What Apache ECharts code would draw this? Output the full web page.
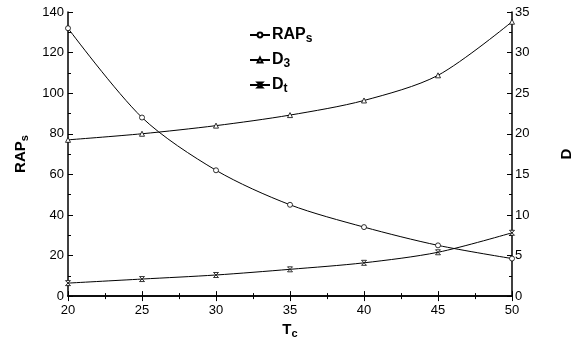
<!DOCTYPE html>
<html><head><meta charset="utf-8">
<script src="https://cdn.jsdelivr.net/npm/echarts@6/dist/echarts.min.js"></script>
<style>html,body{margin:0;padding:0;background:#fff}#c{width:582px;height:344px}</style>
</head><body><div id="c"></div>
<script>
const tc = [20, 25, 30, 35, 40, 45, 50];
const raps = [132, 88, 62, 45, 34, 25, 18.5];
const d3 = [19.25, 20, 21, 22.3, 24.1, 27.2, 33.8];
const dt = [1.6, 2.1, 2.6, 3.3, 4.1, 5.4, 7.8];
const F = 'Liberation Sans, Arial, sans-serif';
const pair = (a) => tc.map((x, i) => [x, a[i]]);
const hourglass = 'path://M0,0 L10,0 L0,10 L10,10 Z';
const chart = echarts.init(document.getElementById('c'));
const axLine = {show: true, lineStyle: {color: '#000', width: 1.5}};
const tick = {show: true, inside: true, length: 5, lineStyle: {color: '#000'}};
const minor = {show: true, splitNumber: 2, length: 3, lineStyle: {color: '#000'}};
const lbl = {color: '#000', fontSize: 13, fontFamily: F};
const nameRich = {
  a: {fontSize: 15, fontWeight: 'bold', fontFamily: F, color: '#000'},
  b: {fontSize: 11, fontWeight: 'bold', fontFamily: F, color: '#000', verticalAlign: 'bottom', padding: [8, 0, 0, 0]}
};
const legRich = {
  a: {fontSize: 16, fontWeight: 'bold', fontFamily: F, color: '#000'},
  b: {fontSize: 12, fontWeight: 'bold', fontFamily: F, color: '#000', verticalAlign: 'bottom', padding: [8, 0, 0, 0]}
};
const st = {color: '#fff', borderColor: '#000', borderWidth: 0.8};
chart.setOption({
  animation: false,
  backgroundColor: '#fff',
  grid: {left: 68, right: 70, top: 12, bottom: 40},
  legend: {
    orient: 'vertical', left: 244, top: 22, itemGap: 7, itemWidth: 20, itemHeight: 6,
    data: ['RAPs', 'D3', 'Dt'],
    formatter: (n) => n === 'RAPs' ? '{a|RAP}{b|s}' : n === 'D3' ? '{a|D}{b|3}' : '{a|D}{b|t}',
    textStyle: {rich: legRich, padding: [0, 0, 0, -3]}
  },
  xAxis: [
    {type: 'value', min: 20, max: 50, interval: 5, name: '{a|T}{b|c}', nameLocation: 'middle', nameGap: 19,
     nameTextStyle: {rich: nameRich}, axisLine: axLine, axisTick: tick, minorTick: minor,
     axisLabel: Object.assign({margin: 8}, lbl), splitLine: {show: false}},
    {type: 'value', position: 'top', min: 20, max: 50, interval: 5, axisLine: axLine, axisTick: tick,
     minorTick: minor, axisLabel: {show: false}, splitLine: {show: false}}
  ],
  yAxis: [
    {type: 'value', min: 0, max: 140, interval: 20, name: '{a|RAP}{b|s}', nameLocation: 'middle', nameGap: 38,
     nameRotate: 90, nameTextStyle: {rich: nameRich}, axisLine: axLine, axisTick: tick, minorTick: minor,
     axisLabel: Object.assign({margin: 4}, lbl), splitLine: {show: false}},
    {type: 'value', min: 0, max: 35, interval: 5, position: 'right', name: '{a|D}', nameLocation: 'middle', nameGap: 47,
     nameRotate: 90, nameTextStyle: {rich: nameRich}, axisLine: axLine, axisTick: tick, minorTick: minor,
     axisLabel: Object.assign({margin: 3}, lbl), splitLine: {show: false}}
  ],
  series: [
    {name: 'RAPs', type: 'line', yAxisIndex: 0, smooth: 0.3, data: pair(raps), symbol: 'circle', symbolSize: 5,
     lineStyle: {color: '#000', width: 1}, itemStyle: st},
    {name: 'D3', type: 'line', yAxisIndex: 1, smooth: 0.3, data: pair(d3), symbol: 'triangle', symbolSize: 5,
     lineStyle: {color: '#000', width: 1}, itemStyle: st},
    {name: 'Dt', type: 'line', yAxisIndex: 1, smooth: 0.3, data: pair(dt), symbol: hourglass, symbolSize: 5,
     lineStyle: {color: '#000', width: 1}, itemStyle: st}
  ]
});
</script></body></html>
